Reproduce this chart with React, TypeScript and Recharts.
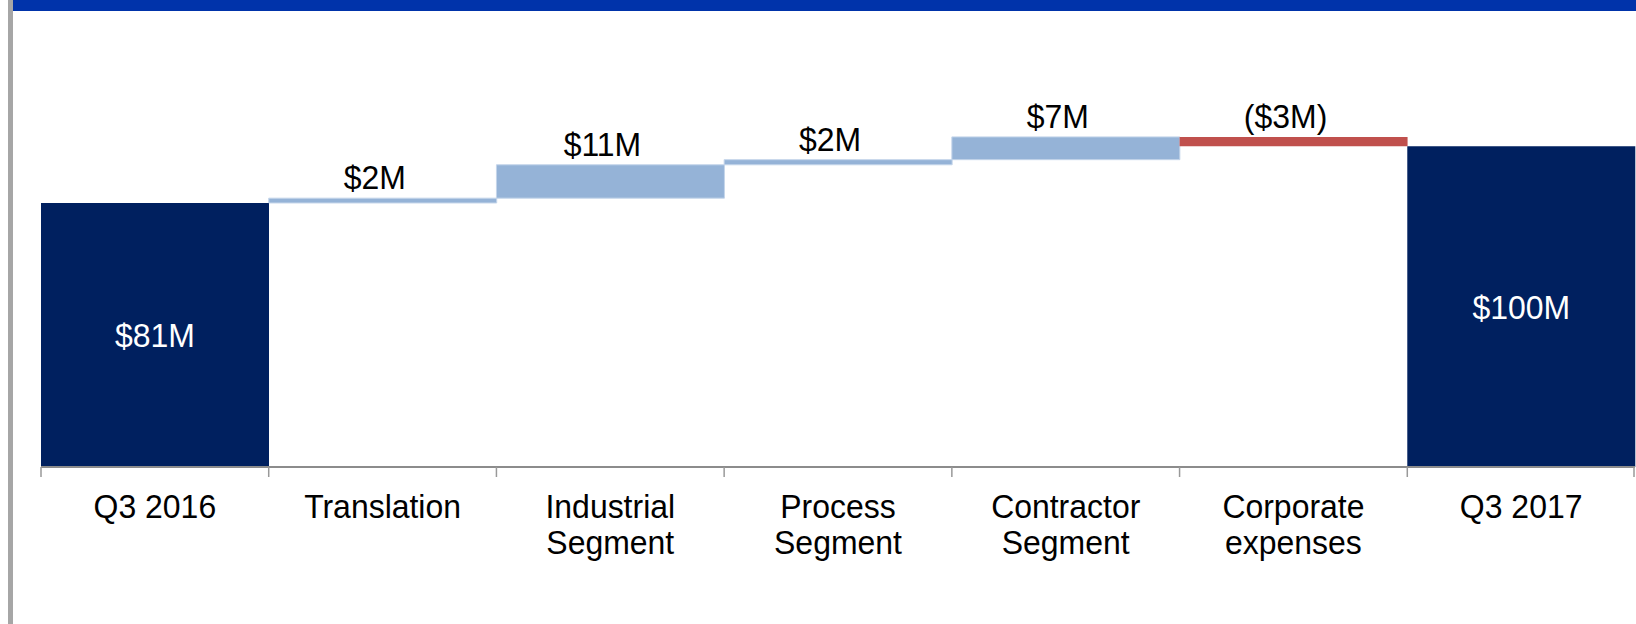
import { BarChart, Bar, XAxis, YAxis, Cell, LabelList } from 'recharts';

const WIDTH = 1636;
const HEIGHT = 624;
const MARGIN = { top: 66, right: 1, bottom: 0, left: 41 };
const XAXIS_HEIGHT = 157;
const AXIS_Y = HEIGHT - MARGIN.bottom - XAXIS_HEIGHT;
const FONT = '"Liberation Sans", Arial, Helvetica, sans-serif';

// category tick labels, one entry per line
const categoryLines: string[][] = [
  ['Q3 2016'],
  ['Translation'],
  ['Industrial', 'Segment'],
  ['Process', 'Segment'],
  ['Contractor', 'Segment'],
  ['Corporate', 'expenses'],
  ['Q3 2017'],
];

// $M
const startValue = 82.3;
const changes = [1.5, 10.4, 1.6, 7.1, -2.9];
const endValue = 100;

const valueLabels = ['$81M', '$2M', '$11M', '$2M', '$7M', '($3M)', '$100M'];

type Kind = 'total' | 'up' | 'down';
interface Row {
  name: string;
  base: number;
  value: number;
  kind: Kind;
}

const rows: Row[] = [];
rows.push({ name: categoryLines[0].join(' '), base: 0, value: startValue, kind: 'total' });
let running = startValue;
changes.forEach((c, i) => {
  rows.push({
    name: categoryLines[i + 1].join(' '),
    base: c >= 0 ? running : running + c,
    value: Math.abs(c),
    kind: c >= 0 ? 'up' : 'down',
  });
  running += c;
});
rows.push({ name: categoryLines[categoryLines.length - 1].join(' '), base: 0, value: endValue, kind: 'total' });

const FILLS: Record<Kind, string> = { total: '#00205f', up: '#95b3d7', down: '#c0504d' };
const BAND = (WIDTH - MARGIN.left - MARGIN.right) / rows.length;

function CategoryTick(props: any) {
  const { x, index } = props;
  const lines = categoryLines[index] || [];
  const half = BAND / 2;
  return (
    <g>
      <line x1={x - half} x2={x - half} y1={AXIS_Y} y2={AXIS_Y + 10} stroke="#999" strokeWidth={1.5} />
      {index === rows.length - 1 && (
        <line x1={x + half - 1} x2={x + half - 1} y1={AXIS_Y} y2={AXIS_Y + 10} stroke="#999" strokeWidth={1.5} />
      )}
      {lines.map((line, i) => (
        <text
          key={i}
          transform={`translate(${x},${AXIS_Y + 50.5 + i * 36.5}) scale(0.94,1)`}
          textAnchor="middle"
          fontFamily={FONT}
          fontSize={34}
          fill="#000"
        >
          {line}
        </text>
      ))}
    </g>
  );
}

function ValueLabel(props: any) {
  const { x, y, width, height, index } = props;
  const row = rows[index];
  if (!row) return null;
  const isTotal = row.kind === 'total';
  const cx = x + width / 2 + (isTotal ? 0 : -8);
  const cy = isTotal ? y + height / 2 + 12.5 : y - 9;
  return (
    <text
      transform={`translate(${cx},${cy}) scale(0.94,1)`}
      textAnchor="middle"
      fontFamily={FONT}
      fontSize={34}
      fill={isTotal ? '#fff' : '#000'}
    >
      {valueLabels[index]}
    </text>
  );
}

export default function App() {
  return (
    <div style={{ position: 'absolute', left: 0, top: 0, width: WIDTH, height: HEIGHT, background: '#fff', overflow: 'hidden' }}>
      <div style={{ position: 'absolute', left: 8, top: 0, width: 5, height: HEIGHT, background: '#a6a6a6' }} />
      <div style={{ position: 'absolute', left: 13, top: 0, right: 0, height: 10.5, background: '#0033aa' }} />
      <BarChart
        width={WIDTH}
        height={HEIGHT}
        data={rows}
        margin={MARGIN}
        barCategoryGap={0}
        barGap={0}
        style={{ position: 'absolute', left: 0, top: 0 }}
      >
        <XAxis
          dataKey="name"
          height={XAXIS_HEIGHT}
          interval={0}
          tickLine={false}
          axisLine={{ stroke: '#8c8c8c', strokeWidth: 2 }}
          tick={<CategoryTick />}
        />
        <YAxis hide domain={[0, 125]} />
        <Bar dataKey="base" stackId="w" fill="transparent" isAnimationActive={false} />
        <Bar dataKey="value" stackId="w" isAnimationActive={false}>
          {rows.map((r, i) => (
            <Cell
              key={i}
              fill={FILLS[r.kind]}
              stroke={r.kind === 'up' ? '#c4d5ea' : 'none'}
              strokeWidth={r.kind === 'up' ? 1 : 0}
            />
          ))}
          <LabelList dataKey="value" content={<ValueLabel />} />
        </Bar>
      </BarChart>
    </div>
  );
}
